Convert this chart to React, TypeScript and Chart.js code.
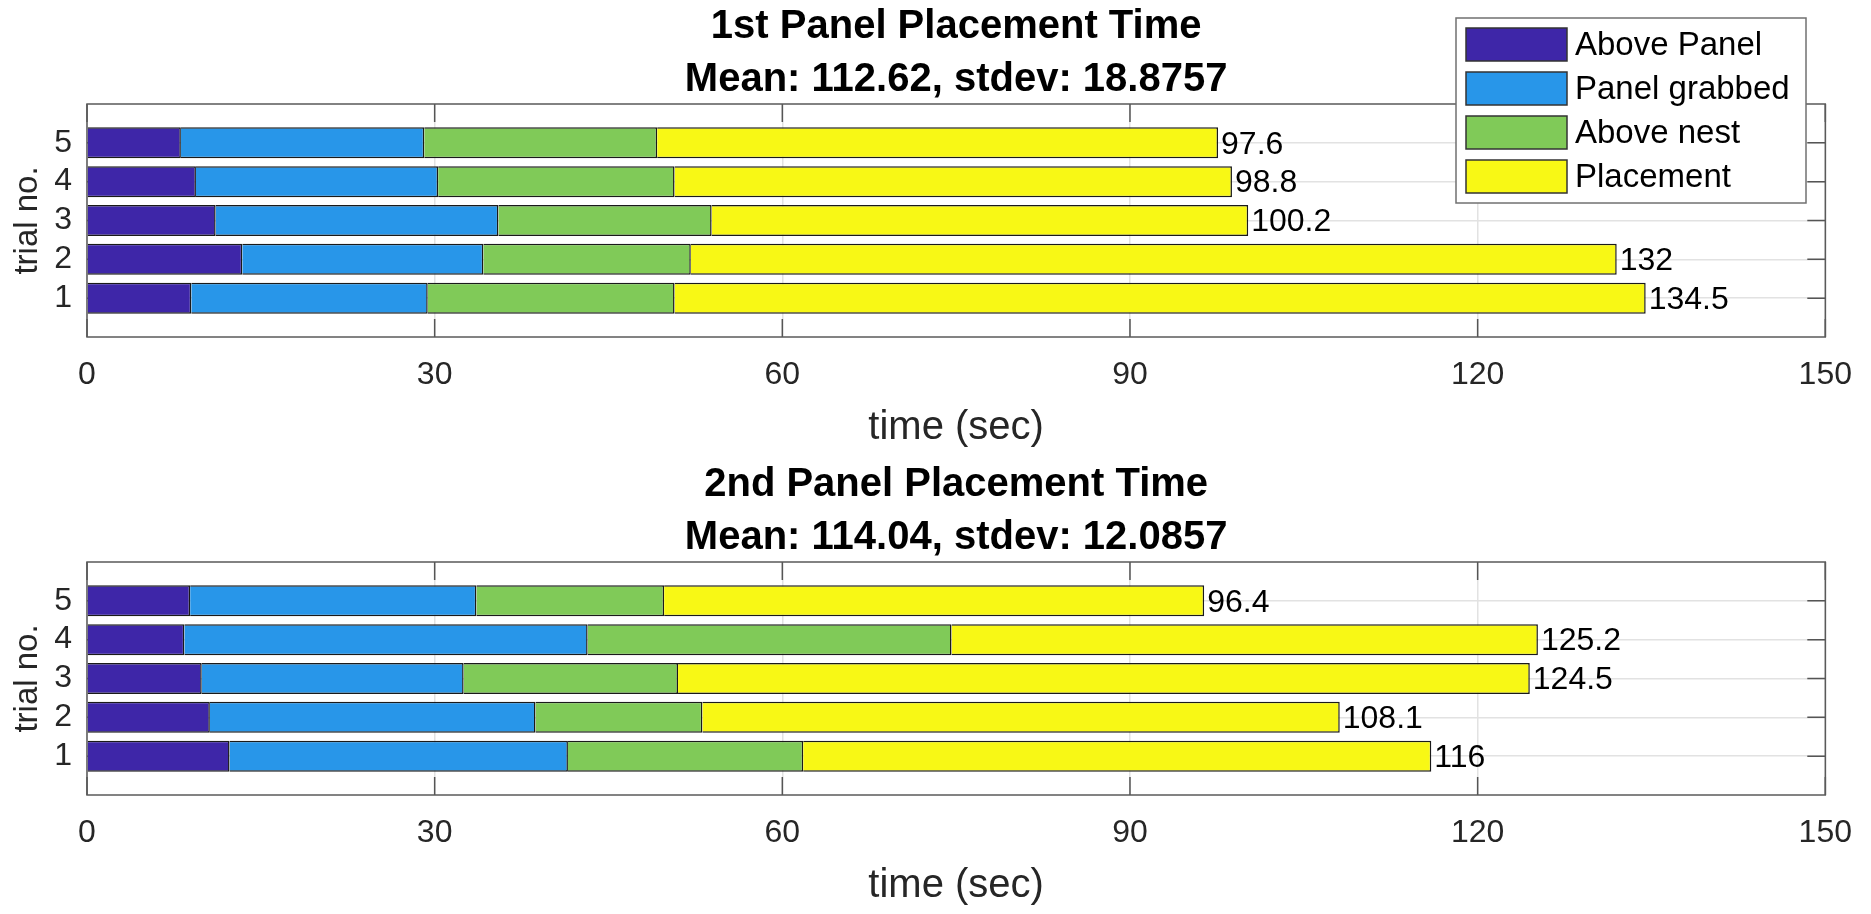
import React, { useEffect, useRef } from "react";
import { Chart, registerables } from "chart.js";

Chart.register(...registerables);

// ---------- data ----------
const TRIALS = [1, 2, 3, 4, 5];
const STAGES = ["Above Panel", "Panel grabbed", "Above nest", "Placement"];
const STAGE_COLORS = ["#3E26A8", "#2896E9", "#80CA58", "#F8F815"];
const X_TICKS = [0, 30, 60, 90, 120, 150];
const X_LABEL = "time (sec)";
const Y_LABEL = "trial no.";

// 1st panel: stage durations per trial (trial 1..5)
const P1_ABOVE_PANEL = [9.0, 13.4, 11.1, 9.4, 8.1];
const P1_GRABBED = [20.4, 20.8, 24.4, 20.9, 21.0];
const P1_ABOVE_NEST = [21.3, 17.9, 18.4, 20.4, 20.1];
const P1_PLACEMENT = [83.8, 79.9, 46.3, 48.1, 48.4];
const P1_TOTALS = [134.5, 132, 100.2, 98.8, 97.6];
const P1_TITLE = ["1st Panel Placement Time", "Mean: 112.62, stdev: 18.8757"];

// 2nd panel
const P2_ABOVE_PANEL = [12.3, 10.6, 9.9, 8.4, 8.9];
const P2_GRABBED = [29.2, 28.1, 22.6, 34.8, 24.7];
const P2_ABOVE_NEST = [20.3, 14.4, 18.5, 31.4, 16.2];
const P2_PLACEMENT = [54.2, 55.0, 73.5, 50.6, 46.6];
const P2_TOTALS = [116, 108.1, 124.5, 125.2, 96.4];
const P2_TITLE = ["2nd Panel Placement Time", "Mean: 114.04, stdev: 12.0857"];

// ---------- layout ----------
const W = 1871;
const FONT = "'Liberation Sans', Arial, Helvetica, sans-serif";
const PLOT_TOP = 104;
const PLOT_BOTTOM = 337;
const PLOT_LEFT = 87;
const PLOT_RIGHT = 1837;
const XAXIS_H = 60;

type PanelProps = {
  top: number;
  height: number;
  title: string[];
  series: number[][];
  totals: number[];
  showLegend: boolean;
};

function makeDecor(title: string[], totals: number[], showLegend: boolean) {
  return {
    id: "matlabDecor",
    beforeDatasetsDraw(chart: any) {
      const ctx = chart.ctx;
      const a = chart.chartArea;
      const xs = chart.scales.x;
      const ys = chart.scales.y;
      ctx.save();
      ctx.strokeStyle = "#555555";
      ctx.lineWidth = 1.5;
      const tl = 18;
      ctx.beginPath();
      X_TICKS.forEach((v) => {
        const px = xs.getPixelForValue(v);
        ctx.moveTo(px, a.bottom);
        ctx.lineTo(px, a.bottom - tl);
        ctx.moveTo(px, a.top);
        ctx.lineTo(px, a.top + tl);
      });
      TRIALS.forEach((t) => {
        const py = ys.getPixelForValue(t);
        ctx.moveTo(a.right, py);
        ctx.lineTo(a.right - tl, py);
        ctx.moveTo(a.left, py);
        ctx.lineTo(a.left + tl, py);
      });
      ctx.stroke();
      ctx.strokeStyle = "#5a5a5a";
      ctx.strokeRect(a.left, a.top, a.right - a.left, a.bottom - a.top);
      ctx.restore();
    },
    afterDraw(chart: any) {
      const ctx = chart.ctx;
      const a = chart.chartArea;
      const xs = chart.scales.x;
      const ys = chart.scales.y;
      const cx = (a.left + a.right) / 2;
      ctx.save();
      // data labels (totals)
      ctx.fillStyle = "#000";
      ctx.font = `32px ${FONT}`;
      ctx.textAlign = "left";
      ctx.textBaseline = "middle";
      TRIALS.forEach((t, i) => {
        ctx.fillText(String(totals[i]), xs.getPixelForValue(totals[i]) + 3, ys.getPixelForValue(t) + 2);
      });
      // titles
      ctx.textAlign = "center";
      ctx.textBaseline = "alphabetic";
      ctx.font = `bold 40px ${FONT}`;
      ctx.fillText(title[0], cx, 38);
      ctx.fillText(title[1], cx, 91);
      // x axis title
      ctx.fillStyle = "#262626";
      ctx.font = `40px ${FONT}`;
      ctx.fillText(X_LABEL, cx, a.bottom + 102);
      // y axis title
      ctx.font = `33px ${FONT}`;
      ctx.translate(37, (a.top + a.bottom) / 2);
      ctx.rotate(-Math.PI / 2);
      ctx.fillText(Y_LABEL, 0, 0);
      ctx.restore();

      if (showLegend) {
        ctx.save();
        const lx = 1456, ly = 18, lw = 350, lh = 185;
        ctx.fillStyle = "#ffffff";
        ctx.fillRect(lx, ly, lw, lh);
        ctx.strokeStyle = "#707070";
        ctx.lineWidth = 1.5;
        ctx.strokeRect(lx, ly, lw, lh);
        ctx.font = `33px ${FONT}`;
        ctx.textAlign = "left";
        ctx.textBaseline = "middle";
        chart.data.datasets.forEach((ds: any, i: number) => {
          const sy = 28 + 44 * i;
          ctx.fillStyle = ds.backgroundColor;
          ctx.fillRect(1466, sy, 101, 33);
          ctx.strokeStyle = "#333333";
          ctx.strokeRect(1466, sy, 101, 33);
          ctx.fillStyle = "#000";
          ctx.fillText(ds.label, 1575, sy + 18);
        });
        ctx.restore();
      }
    },
  };
}

function Panel({ top, height, title, series, totals, showLegend }: PanelProps) {
  const ref = useRef<HTMLCanvasElement>(null);
  useEffect(() => {
    if (!ref.current) return;
    const tickFont = { family: FONT, size: 32 };
    const chart = new Chart(ref.current, {
      type: "bar",
      data: {
        datasets: STAGES.map((name, s) => ({
          label: name,
          data: TRIALS.map((t, i) => ({ x: series[s][i], y: t })),
          backgroundColor: STAGE_COLORS[s],
          borderColor: "#1a1a1a",
          borderWidth: 1.5,
          borderSkipped: "start",
          categoryPercentage: 0.8,
          barPercentage: 1,
        })),
      },
      options: {
        indexAxis: "y",
        responsive: false,
        animation: false,
        devicePixelRatio: 1,
        layout: {
          padding: { top: PLOT_TOP, left: 0, right: W - PLOT_RIGHT, bottom: height - PLOT_BOTTOM - XAXIS_H },
        },
        scales: {
          x: {
            type: "linear",
            stacked: true,
            offset: false,
            min: 0,
            max: 150,
            afterBuildTicks: (s: any) => {
              s.ticks = X_TICKS.map((v) => ({ value: v }));
            },
            afterFit: (s: any) => {
              s.height = XAXIS_H;
            },
            grid: { color: "#e2e2e2", lineWidth: 1.5, drawTicks: false, offset: false },
            border: { display: false },
            ticks: { padding: 19, color: "#262626", font: tickFont, maxRotation: 0, autoSkip: false },
          },
          y: {
            type: "linear",
            stacked: true,
            offset: false,
            min: 0,
            max: 6,
            afterBuildTicks: (s: any) => {
              s.ticks = TRIALS.map((v) => ({ value: v }));
            },
            afterFit: (s: any) => {
              s.width = PLOT_LEFT;
            },
            grid: { color: "#e2e2e2", lineWidth: 1.5, drawTicks: false, offset: false },
            border: { display: false },
            ticks: { padding: 15, color: "#262626", font: tickFont, autoSkip: false },
          },
        },
        plugins: {
          legend: { display: false },
          title: { display: false },
          tooltip: { enabled: false },
        },
      } as any,
      plugins: [makeDecor(title, totals, showLegend)],
    } as any);
    return () => chart.destroy();
  }, []);
  return (
    <canvas
      ref={ref}
      width={W}
      height={height}
      style={{ position: "absolute", left: 0, top, width: W, height, display: "block" }}
    />
  );
}

export default function App() {
  return (
    <div style={{ position: "absolute", left: 0, top: 0, width: W, height: 914, background: "#fff", overflow: "hidden" }}>
      <Panel
        top={0}
        height={458}
        title={P1_TITLE}
        series={[P1_ABOVE_PANEL, P1_GRABBED, P1_ABOVE_NEST, P1_PLACEMENT]}
        totals={P1_TOTALS}
        showLegend={true}
      />
      <Panel
        top={458}
        height={456}
        title={P2_TITLE}
        series={[P2_ABOVE_PANEL, P2_GRABBED, P2_ABOVE_NEST, P2_PLACEMENT]}
        totals={P2_TOTALS}
        showLegend={false}
      />
    </div>
  );
}
